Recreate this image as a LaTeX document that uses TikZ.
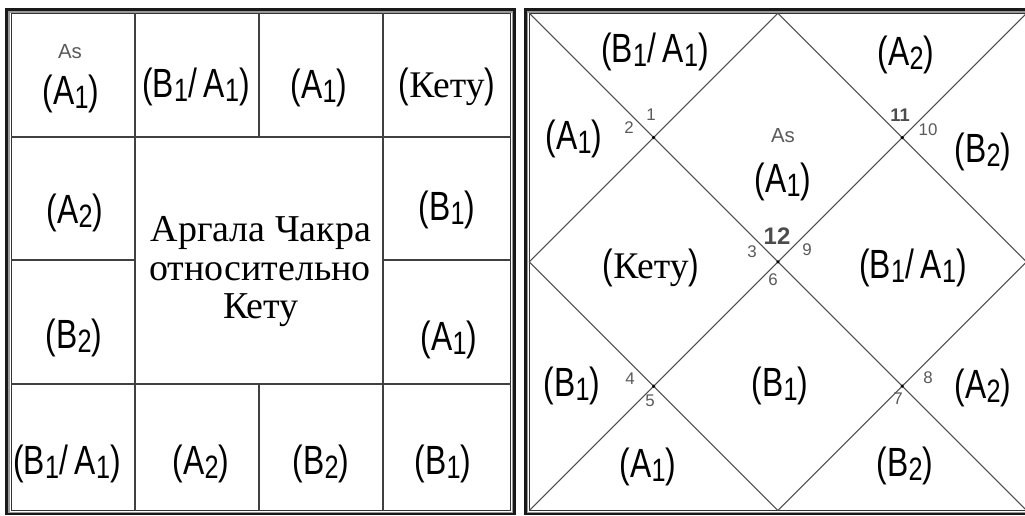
\documentclass[tikz,border=0pt]{standalone}
\usepackage{fontspec}
\setmainfont{Liberation Serif}
\newfontfamily\lblfont[FakeStretch=0.78]{Liberation Sans}
\newfontfamily\numfont{Liberation Sans}
\usetikzlibrary{calc}

\newcommand{\lblsz}{\fontsize{11.6}{13}\lblfont}
\newcommand{\ix}[1]{\raisebox{-0.2ex}{\fontsize{9.2}{10}\lblfont #1}}
\newcommand{\hh}[2]{(#1\ix{#2})}
\newcommand{\hb}{(B\ix{1}/\,A\ix{1})}
\newcommand{\kt}{({\fontsize{10.7}{11}\rmfamily Кету})}

\begin{document}
\begin{tikzpicture}[x=0.01cm, y=-0.01cm,
  lbl/.style={font=\lblsz, inner sep=0pt},
  ctr/.style={font=\fontsize{10.8}{11}\rmfamily, inner sep=0pt, anchor=base},
  num/.style={font=\fontsize{4.8}{5}\numfont, text=black!65, inner sep=0pt},
  bignum/.style={font=\fontsize{6.8}{7}\numfont\bfseries, text=black!70, inner sep=0pt},
  asc/.style={font=\fontsize{5.8}{6}\numfont, text=black!65, inner sep=0pt},
  grid/.style={black!75, line width=0.35pt},
  diag/.style={black!70, line width=0.3pt},
  frameout/.style={black!90, line width=0.85pt},
  framemid/.style={black!40, line width=0.45pt},
  framein/.style={black!80, line width=0.35pt}]
  \useasboundingbox (0,0) rectangle (1025,516);
  \clip (0,0) rectangle (1025,516);

  % left chart: frame and squares
  \draw[frameout] (6.5,10) rectangle (514.5,514);
  \draw[framemid] (9,11.8) rectangle (512.6,512.4);
  \draw[framein] (11.3,13.3) rectangle (510.7,510.7);
  \foreach \x in {135,383}{ \draw[grid] (\x,13.3) -- (\x,510.7); }
  \foreach \y in {137,384}{ \draw[grid] (11.3,\y) -- (510.7,\y); }
  \draw[grid] (259,13.3) -- (259,137) (259,384) -- (259,510.7);
  \draw[grid] (11.3,260) -- (135,260) (383,260) -- (510.7,260);

  \node[asc] (las) at (70,52) {As};
  \foreach \x/\y/\t [count=\i] in {71/94/{\hh{A}{1}}, 196/87/{\hb}, 319/88/{\hh{A}{1}}, 447/87/{\kt},
                                   75/213/{\hh{A}{2}}, 447/210/{\hh{B}{1}},
                                   74/338/{\hh{B}{2}}, 449/340/{\hh{A}{1}},
                                   67/464/{\hb}, 201/464/{\hh{A}{2}}, 321/464/{\hh{B}{2}}, 443/464/{\hh{B}{1}}}{
    \node[lbl] (sq\i) at (\x,\y) {\t}; }
  \node[ctr] (t1) at (261,242) {Аргала Чакра};
  \node[ctr] (t2) at (260,281) {относительно};
  \node[ctr] (t3) at (261,319) {Кету};

  % right chart: frame and diamond
  \draw[frameout] (525.8,10) rectangle (1040,514);
  \draw[framemid] (527.5,11.8) rectangle (1038,512.4);
  \draw[framein] (529.3,13.3) rectangle (1026.5,510.5);
  \coordinate (nw) at (529.3,13.3);  \coordinate (ne) at (1026.5,13.3);
  \coordinate (se) at (1026.5,510.5); \coordinate (sw) at (529.3,510.5);
  \coordinate (c) at ($(nw)!0.5!(se)$);
  \coordinate (n) at ($(nw)!0.5!(ne)$); \coordinate (e) at ($(ne)!0.5!(se)$);
  \coordinate (s) at ($(sw)!0.5!(se)$); \coordinate (w) at ($(nw)!0.5!(sw)$);
  \draw[diag] (nw) -- (se) (ne) -- (sw) (n) -- (e) -- (s) -- (w) -- cycle;
  \foreach \p in {nw,ne,se,sw}{ \fill[black] ($(c)!0.5!(\p)$) circle (0.5pt); }
  \fill[black] (c) circle (0.5pt);

  \node[asc] (ras) at (783,136) {As};
  \foreach \x/\y/\t [count=\i] in {655/52/{\hb}, 906/55/{\hh{A}{2}}, 574/139/{\hh{A}{1}}, 783/182/{\hh{A}{1}},
                                   983/152/{\hh{B}{2}}, 651/268/{\kt}, 913/268/{\hb},
                                   572/386/{\hh{B}{1}}, 780/386/{\hh{B}{1}}, 983/388/{\hh{A}{2}},
                                   648/467/{\hh{A}{1}}, 905/466/{\hh{B}{2}}}{
    \node[lbl] (h\i) at (\x,\y) {\t}; }
  \foreach \x/\y/\t in {629/128/2, 651/115/1, 928/130/10, 752/252/3, 807/250/9, 773/280/6,
                        630/379/4, 650/401/5, 898/399/7, 928/378/8}{
    \node[num] (n\t) at (\x,\y) {\t}; }
  \node[bignum] (n11) at (900,115) {\fontsize{5.2}{6}\selectfont 11};
  \node[bignum] (n12) at (777,236) {12};
\end{tikzpicture}
\end{document}
